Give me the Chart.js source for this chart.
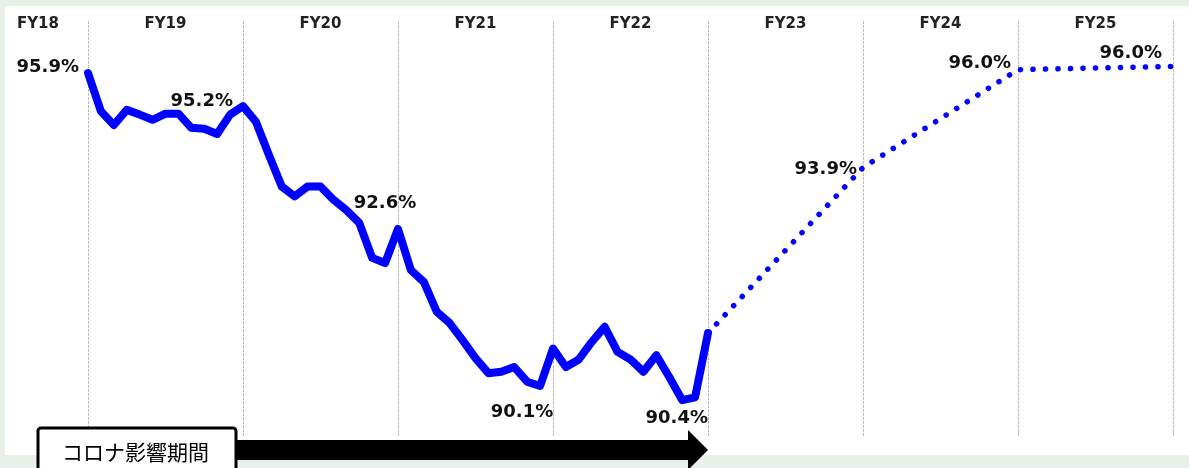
<!DOCTYPE html>
<html>
<head>
<meta charset="utf-8">
<script src="https://cdn.jsdelivr.net/npm/chart.js@4"></script>
<style>
  html, body { margin: 0; padding: 0; background: #e9efe9; }
  #wrap { width: 1189px; height: 468px; }
</style>
</head>
<body>
<div id="wrap"><canvas id="myChart" width="1189" height="468"></canvas></div>
<script>
// fiscal years shown across the top
var fiscalYears = ['FY18', 'FY19', 'FY20', 'FY21', 'FY22', 'FY23', 'FY24', 'FY25'];

// monthly actuals, end of FY18 -> end of FY22 (49 points)
var actualRate = [
  95.90, 95.09, 94.80, 95.12, 95.02, 94.91, 95.04, 95.04, 94.74, 94.72, 94.61, 95.02,
  95.20, 94.87, 94.17, 93.50, 93.29, 93.50, 93.50, 93.22, 93.00, 92.73, 91.99, 91.88,
  92.60, 91.73, 91.48, 90.85, 90.61, 90.25, 89.87, 89.55, 89.58, 89.68, 89.37, 89.28,
  90.07, 89.68, 89.84, 90.21, 90.53, 90.00, 89.84, 89.58, 89.93, 89.47, 88.98, 89.04,
  90.40
];

// plan values at fiscal year ends FY22 -> FY25
var planRate = [90.40, 93.90, 95.97, 96.04];

var covidText = 'コロナ影響期間';

// build month labels (12 per fiscal year, starting at end of FY18)
var labels = [];
for (var i = 0; i <= 84; i++) {
  var fy = fiscalYears[Math.floor(i / 12)];
  labels.push(fy + '-' + (i % 12));
}

var actualSeries = labels.map(function (l, i) { return i < actualRate.length ? actualRate[i] : null; });
var planSeries = labels.map(function () { return null; });
planRate.forEach(function (v, k) { planSeries[48 + k * 12] = v; });

// where the year-end value labels sit, relative to the point
var valueLabels = [
  { idx: 0,  dx: -9,  dy: -1, align: 'right' },
  { idx: 12, dx: -10, dy: 0,  align: 'right' },
  { idx: 24, dx: -13, dy: -21, align: 'center' },
  { idx: 36, dx: -31, dy: 68, align: 'center' },
  { idx: 48, dx: 0,   dy: 90, align: 'right' },
  { idx: 60, dx: -6,  dy: 6,  align: 'right' },
  { idx: 72, dx: -7,  dy: -2, align: 'right' },
  { idx: 84, dx: -11, dy: -8, align: 'right' }
];

var decor = {
  id: 'decor',
  beforeDraw: function (chart) {
    var c = chart.ctx;
    c.save();
    c.fillStyle = '#e9efe9';
    c.fillRect(0, 0, chart.width, chart.height);
    c.fillStyle = '#ffffff';
    c.fillRect(5, 6, chart.width - 5, 449);
    c.restore();
  },
  afterDatasetsDraw: function (chart) {
    var c = chart.ctx;
    var xs = chart.scales.x, ys = chart.scales.y;
    c.save();

    // FY headers
    c.fillStyle = '#222';
    c.font = 'bold 15px "DejaVu Sans"';
    c.textAlign = 'center';
    c.textBaseline = 'middle';
    fiscalYears.forEach(function (fy, k) {
      var x;
      if (k === 0) x = xs.getPixelForValue(0) - 50;
      else x = (xs.getPixelForValue((k - 1) * 12) + xs.getPixelForValue(k * 12)) / 2;
      c.fillText(fy, x, 24);
    });

    // year-end values
    c.font = 'bold 18px "DejaVu Sans"';
    c.fillStyle = '#111';
    c.textBaseline = 'alphabetic';
    valueLabels.forEach(function (lb) {
      var v = actualSeries[lb.idx] != null ? actualSeries[lb.idx] : planSeries[lb.idx];
      var px = xs.getPixelForValue(lb.idx);
      var py = ys.getPixelForValue(v);
      c.textAlign = lb.align;
      c.fillText(v.toFixed(1) + '%', px + lb.dx, py + lb.dy);
    });

    // covid period arrow
    var boxL = 38, boxR = 236, boxT = 428;
    var tip = xs.getPixelForValue(48);
    c.fillStyle = '#000';
    c.fillRect(boxR, 440, tip - 20 - boxR, 20);
    c.beginPath();
    c.moveTo(tip - 20, 430);
    c.lineTo(tip, 450);
    c.lineTo(tip - 20, 470);
    c.closePath();
    c.fill();

    c.fillStyle = '#fff';
    c.strokeStyle = '#000';
    c.lineWidth = 3;
    c.beginPath();
    c.roundRect(boxL, boxT, boxR - boxL, 60, 3);
    c.fill();
    c.stroke();
    c.fillStyle = '#000';
    c.font = '21px "Noto Sans CJK JP"';
    c.textAlign = 'left';
    c.textBaseline = 'middle';
    c.fillText(covidText, 62, 452);

    c.restore();
  }
};

var ctx = document.getElementById('myChart').getContext('2d');
var myChart = new Chart(ctx, {
  type: 'line',
  data: {
    labels: labels,
    datasets: [{
      label: 'actual',
      data: actualSeries,
      borderColor: '#0000ff',
      borderWidth: 8,
      borderJoinStyle: 'round',
      borderCapStyle: 'round',
      pointRadius: 0,
      tension: 0
    }, {
      label: 'plan',
      data: planSeries,
      borderColor: '#0000ff',
      borderWidth: 5.5,
      borderDash: [0.1, 12.4],
      borderCapStyle: 'round',
      pointRadius: 0,
      spanGaps: true,
      tension: 0
    }]
  },
  options: {
    responsive: false,
    devicePixelRatio: 1,
    animation: false,
    layout: { padding: { left: 88, right: 16, top: 21, bottom: 31 } },
    plugins: {
      legend: { display: false },
      tooltip: { enabled: false }
    },
    scales: {
      x: {
        ticks: { display: false, autoSkip: false },
        border: { display: false, dash: [3, 1] },
        grid: {
          drawTicks: false,
          lineWidth: 1,
          color: function (context) {
            return context.index % 12 === 0 ? '#bdbdbd' : 'rgba(0,0,0,0)';
          }
        }
      },
      y: {
        display: false,
        min: 88.2,
        max: 97.0
      }
    }
  },
  plugins: [decor]
});
</script>
</body>
</html>
